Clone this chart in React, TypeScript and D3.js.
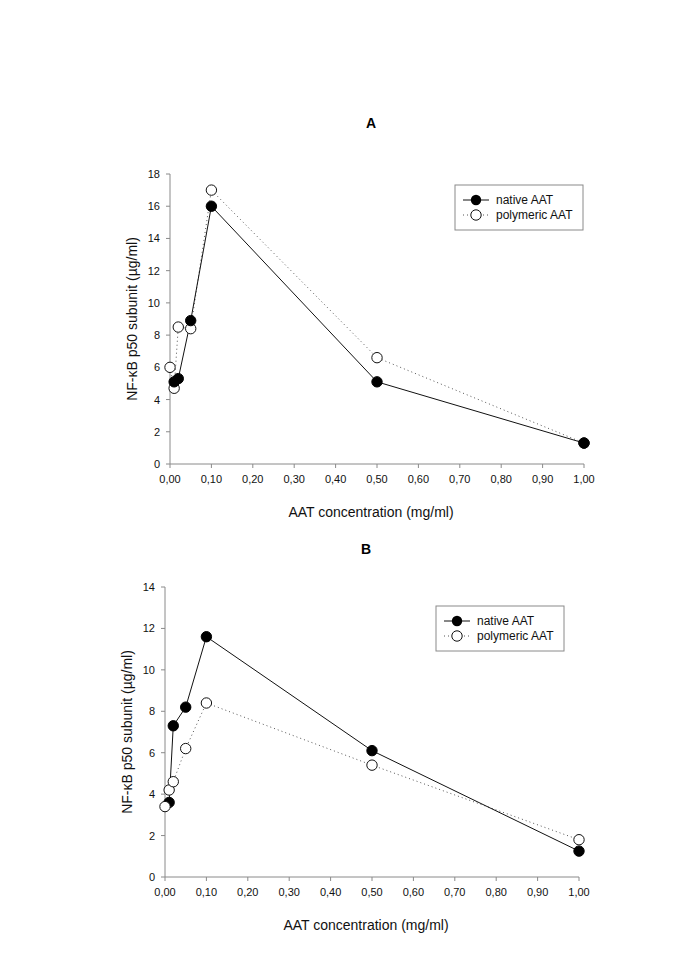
import React from "react";
import * as d3 from "d3";

const concentrations = [0, 0.01, 0.02, 0.05, 0.1, 0.5, 1.0];
const xTickValues = [0, 0.1, 0.2, 0.3, 0.4, 0.5, 0.6, 0.7, 0.8, 0.9, 1.0];

const nativeA: (number | null)[] = [null, 5.1, 5.3, 8.9, 16.0, 5.1, 1.3];
const polymericA: (number | null)[] = [6.0, 4.7, 8.5, 8.4, 17.0, 6.6, 1.3];

const nativeB: (number | null)[] = [null, 3.6, 7.3, 8.2, 11.6, 6.1, 1.25];
const polymericB: (number | null)[] = [3.4, 4.2, 4.6, 6.2, 8.4, 5.4, 1.8];

const seriesNames = ["native AAT", "polymeric AAT"];
const yTitle = "NF-\u03BAB p50 subunit (\u00B5g/ml)";
const xTitle = "AAT concentration (mg/ml)";

const FONT = "'Liberation Sans', Arial, Helvetica, sans-serif";
const AXIS = "#8a8a8a";

type PanelProps = {
  label: string;
  native: (number | null)[];
  polymeric: (number | null)[];
  yMax: number;
  x0: number;
  x1: number;
  yBottom: number;
  yTop: number;
  titleY: number;
  legendX: number;
  legendY: number;
  nativeOnTop: boolean;
};

function Panel(p: PanelProps) {
  const x = d3.scaleLinear().domain([0, 1]).range([p.x0, p.x1]);
  const y = d3.scaleLinear().domain([0, p.yMax]).range([p.yBottom, p.yTop]);
  const yTicks = d3.range(0, p.yMax + 0.001, 2);
  const pts = (vals: (number | null)[]) =>
    concentrations
      .map((c, i) => ({ c, v: vals[i] }))
      .filter((d) => d.v !== null) as { c: number; v: number }[];
  const line = d3
    .line<{ c: number; v: number }>()
    .x((d) => x(d.c))
    .y((d) => y(d.v));
  const nat = pts(p.native);
  const pol = pts(p.polymeric);
  const fmt = (v: number) => v.toFixed(2).replace(".", ",");
  const cx = (p.x0 + p.x1) / 2;
  const natMarkers = nat.map((d, i) => (
    <circle key={"n" + i} cx={x(d.c)} cy={y(d.v)} r={5.2} fill="#000" stroke="#000" strokeWidth={1} />
  ));
  const polMarkers = pol.map((d, i) => (
    <circle key={"p" + i} cx={x(d.c)} cy={y(d.v)} r={5.2} fill="#fff" stroke="#111" strokeWidth={1} />
  ));
  const lw = 128;
  const lh = 45;
  return (
    <g>
      <text x={cx - 6} y={p.titleY} textAnchor="middle" fontFamily={FONT} fontWeight="bold" fontSize={14}>
        {p.label}
      </text>
      {/* axes */}
      <line x1={p.x0} x2={p.x0} y1={p.yBottom} y2={p.yTop} stroke={AXIS} strokeWidth={1} />
      <line x1={p.x0} x2={p.x1} y1={p.yBottom} y2={p.yBottom} stroke={AXIS} strokeWidth={1} />
      {yTicks.map((t) => (
        <g key={"y" + t}>
          <line x1={p.x0 - 4} x2={p.x0} y1={y(t)} y2={y(t)} stroke={AXIS} />
          <text x={p.x0 - 10} y={y(t) + 4} textAnchor="end" fontFamily={FONT} fontSize={11} fill="#111">
            {t}
          </text>
        </g>
      ))}
      {xTickValues.map((t) => (
        <g key={"x" + t}>
          <line x1={x(t)} x2={x(t)} y1={p.yBottom} y2={p.yBottom + 4} stroke={AXIS} />
          <text x={x(t)} y={p.yBottom + 19} textAnchor="middle" fontFamily={FONT} fontSize={11} fill="#111">
            {fmt(t)}
          </text>
        </g>
      ))}
      <text x={cx - 6} y={p.yBottom + 53} textAnchor="middle" fontFamily={FONT} fontSize={14} fill="#111">
        {xTitle}
      </text>
      <text
        transform={`translate(${p.x0 - 33},${(p.yBottom + p.yTop) / 2}) rotate(-90)`}
        textAnchor="middle"
        fontFamily={FONT}
        fontSize={14}
        fill="#111"
      >
        {yTitle}
      </text>
      {/* lines */}
      <path d={line(pol) || ""} fill="none" stroke="#555" strokeWidth={1} strokeDasharray="1,3" />
      <path d={line(nat) || ""} fill="none" stroke="#111" strokeWidth={1} />
      {p.nativeOnTop ? polMarkers : natMarkers}
      {p.nativeOnTop ? natMarkers : polMarkers}
      {/* legend */}
      <rect x={p.legendX} y={p.legendY} width={lw} height={lh} fill="#fff" stroke={AXIS} strokeWidth={1} />
      <line x1={p.legendX + 8} x2={p.legendX + 34} y1={p.legendY + 15} y2={p.legendY + 15} stroke="#111" />
      <circle cx={p.legendX + 21} cy={p.legendY + 15} r={5.2} fill="#000" />
      <text x={p.legendX + 41} y={p.legendY + 19} fontFamily={FONT} fontSize={12} fill="#111">
        {seriesNames[0]}
      </text>
      <line
        x1={p.legendX + 8}
        x2={p.legendX + 34}
        y1={p.legendY + 30}
        y2={p.legendY + 30}
        stroke="#555"
        strokeDasharray="1,3"
      />
      <circle cx={p.legendX + 21} cy={p.legendY + 30} r={5.2} fill="#fff" stroke="#111" />
      <text x={p.legendX + 41} y={p.legendY + 34} fontFamily={FONT} fontSize={12} fill="#111">
        {seriesNames[1]}
      </text>
    </g>
  );
}

export default function App() {
  return (
    <svg
      width={685}
      height={969}
      style={{ position: "absolute", left: 0, top: 0, background: "#fff" }}
    >
      <rect width={685} height={969} fill="#fff" />
      <Panel
        label="A"
        native={nativeA}
        polymeric={polymericA}
        yMax={18}
        x0={170}
        x1={584}
        yBottom={464}
        yTop={174}
        titleY={128}
        legendX={455}
        legendY={185}
        nativeOnTop={true}
      />
      <Panel
        label="B"
        native={nativeB}
        polymeric={polymericB}
        yMax={14}
        x0={165}
        x1={579}
        yBottom={877}
        yTop={587}
        titleY={554}
        legendX={436}
        legendY={606}
        nativeOnTop={false}
      />
    </svg>
  );
}
